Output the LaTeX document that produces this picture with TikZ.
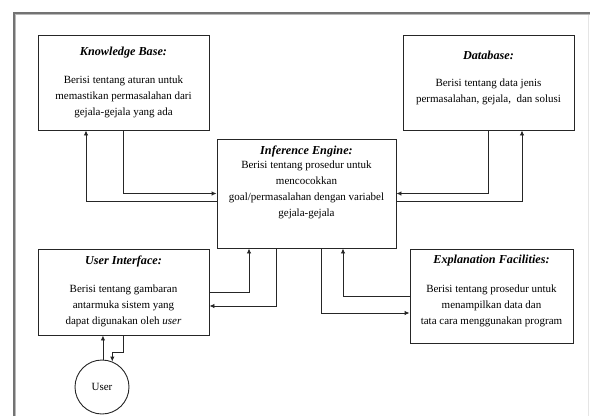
\documentclass[tikz,border=0pt]{standalone}
\usepackage{fontspec}
\setmainfont{Liberation Serif}
\usetikzlibrary{arrows.meta}
\tikzset{
  box/.style={draw=black!85, line width=0.9pt, rectangle, inner sep=0pt},
  ttl/.style={font=\fontsize{12.2}{14}\selectfont\bfseries\itshape, inner sep=0pt},
  body/.style={font=\fontsize{11}{16}\selectfont, align=center, inner sep=0pt},
  arr/.style={draw=black!85, line width=0.9pt, -{Latex[length=5pt,width=4.5pt]}},
  frame/.style={line width=3pt, draw=gray!55},
  frameinner/.style={line width=1.2pt, draw=black!55}
}
\begin{document}
\begin{tikzpicture}[x=1pt,y=-1pt]
\useasboundingbox (0,0) rectangle (590,416);
\fill[white] (0,0) rectangle (590,416);
% outer frame
\draw[frame] (14,416) -- (14,13) -- (590,13);
\draw[frameinner] (14,416) -- (14,13) -- (590,13);
\draw[gray!20, line width=0.8pt] (588.5,15) -- (588.5,416);

% boxes
\node[box, minimum width=171pt, minimum height=95pt] (kb) at (123.5,82.5) {};
\node[ttl] (kbt) at (123.5,53) {Knowledge Base:};
\node[body] (kbb) at (123.5,97) {Berisi tentang aturan untuk\\memastikan permasalahan dari\\gejala-gejala yang ada};

\node[box, minimum width=171pt, minimum height=95pt] (db) at (488.5,82.5) {};
\node[ttl] (dbt) at (488.5,55) {Database:};
\node[body] (dbb) at (488.5,91.5) {Berisi tentang data jenis\\permasalahan, gejala,\ \ dan solusi};

\node[box, minimum width=179pt, minimum height=109pt] (ie) at (306.5,193.5) {};
\node[ttl] (iet) at (306.5,151) {Inference Engine:};
\node[body] (ieb) at (306.5,189.5) {Berisi tentang prosedur untuk\\mencocokkan\\goal/permasalahan dengan variabel\\gejala-gejala};

\node[box, minimum width=171pt, minimum height=86pt] (ui) at (123.5,292) {};
\node[ttl] (uit) at (123.5,261) {User Interface:};
\node[body] (uib) at (123.5,305.5) {Berisi tentang gambaran\\antarmuka sistem yang\\dapat digunakan oleh \textit{user}};

\node[box, minimum width=163pt, minimum height=94pt] (ef) at (491.5,296) {};
\node[ttl] (eft) at (491.5,261) {Explanation Facilities:};
\node[body] (efb) at (491.5,305.5) {Berisi tentang prosedur untuk\\menampilkan data dan\\tata cara menggunakan program};

\node[draw=black!85, line width=0.9pt, circle, minimum size=54pt, inner sep=0pt,
      font=\fontsize{11}{12}\selectfont] (user) at (102,387) {User};

% connectors
\draw[arr] (kb.south) |- (ie.west);
\draw[arr] (ie.west |- 0,201) -| (kb.south -| 86,0);
\draw[arr] (db.south) |- (ie.east);
\draw[arr] (ie.east |- 0,201) -| (db.south -| 522,0);
\draw[arr] (ui.east) -| (ie.south -| 249,0);
\draw[arr] (ie.south -| 276,0) |- (ui.east |- 0,306);
\draw[arr] (ef.west) -| (ie.south -| 343,0);
\draw[arr] (ie.south -| 321,0) |- (ef.west |- 0,313);
\draw[arr] (user.88) -- (ui.south -| user.88);
\coordinate (bend) at (123,352);
\draw[arr] (ui.south -| bend) -- (bend) -| (user.68);
\end{tikzpicture}
\end{document}
